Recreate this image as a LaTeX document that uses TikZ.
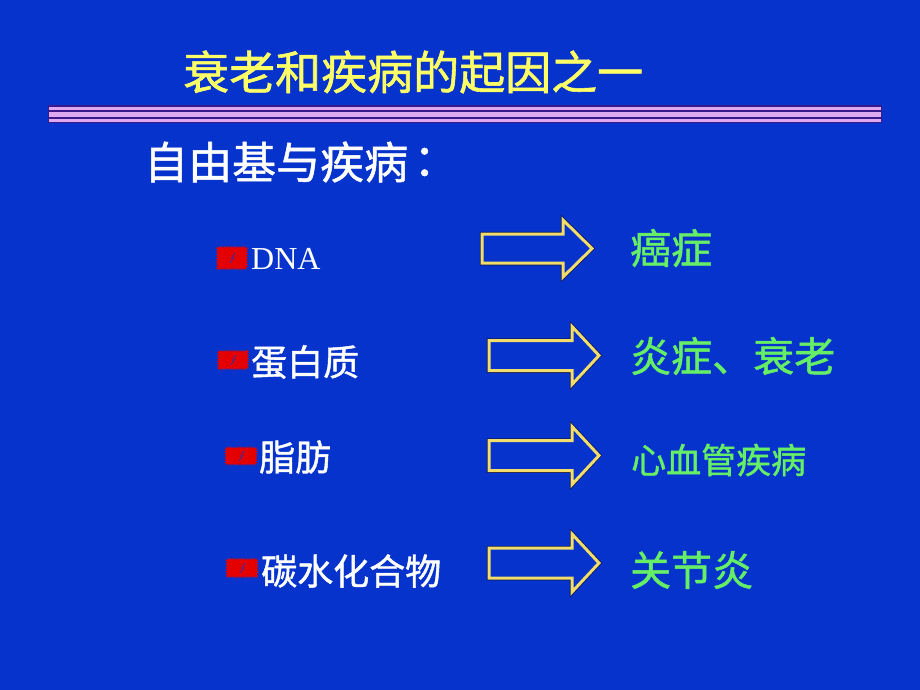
\documentclass[tikz,border=0pt]{standalone}
\usepackage{fontspec}
\setmainfont{Liberation Serif}
\newfontfamily\cjk[FakeBold=1.2]{Noto Sans CJK SC}
\usetikzlibrary{decorations.pathmorphing}
\definecolor{bgblue}{HTML}{0533CC}
\definecolor{ttlyellow}{HTML}{FFFF66}
\definecolor{lgreen}{HTML}{66EE66}
\definecolor{lav}{HTML}{DCA8F0}
\definecolor{darkpur}{HTML}{3A1A8A}
\definecolor{arryel}{HTML}{F2DC6A}
\definecolor{shadow}{HTML}{101850}
\tikzset{
  txt/.style={inner sep=0pt, anchor=west},
  cn/.style={txt, font=\cjk\fontsize{#1}{#1}\selectfont},
  blockarr/.style={draw=arryel, line width=3pt, line join=miter, fill=bgblue},
  bul/.style={fill=red!90!black, decorate, decoration={zigzag, segment length=2.2pt, amplitude=1.1pt}},
}
\newcommand\blockarrow[6]{% left, tip, mid y, shaft half, head half, head length
  \draw[shadow, line width=4.5pt, line join=miter] (#1,#3-#4) -- (#2-#6,#3-#4) -- (#2-#6,#3-#5) -- (#2,#3) -- (#2-#6,#3+#5) -- (#2-#6,#3+#4) -- (#1,#3+#4) -- cycle;
  \draw[blockarr] (#1,#3-#4) -- (#2-#6,#3-#4) -- (#2-#6,#3-#5) -- (#2,#3) -- (#2-#6,#3+#5) -- (#2-#6,#3+#4) -- (#1,#3+#4) -- cycle;}
\newcommand\bulletmark[4]{% cx, cy, w, h
  \fill[bul] (#1-#3/2,#2-#4/2) rectangle (#1+#3/2,#2+#4/2);
  \draw[bgblue!60!red, line width=1.2pt] (#1+3,#2-5) -- (#1,#2) -- (#1+1.5,#2) -- (#1-2,#2+5);}
\begin{document}
\begin{tikzpicture}[x=1pt,y=-1pt]
\fill[bgblue] (0,0) rectangle (920,690);
\useasboundingbox (0,0) rectangle (920,690);
% title
\node[cn=46, text=ttlyellow] (title) at (183,72) {衰老和疾病的起因之一};
% separator lines
\fill[darkpur] (48,105.5) rectangle (882,123.5);
\fill[lav] (49,107.2) rectangle (881,110.2);
\fill[lav] (49,112.2) rectangle (881,117.2);
\fill[lav] (49,119.2) rectangle (881,121.8);
% subtitle
\node[cn=44, text=white] (sub) at (144,162) {自由基与疾病};
\node[cn=44, text=white, xshift=5pt] (colon) at (sub.east) {：};
% left items
\bulletmark{232}{258}{30}{22}
\node[txt, text=white, font=\fontsize{32}{32}\selectfont] (dna) at (251,259) {DNA};
\bulletmark{233}{360}{30}{18}
\node[cn=36, text=white] (prot) at (251,362) {蛋白质};
\bulletmark{241}{456}{31}{17}
\node[cn=36, text=white] (fat) at (259,457) {脂肪};
\bulletmark{242}{568}{31}{18}
\node[cn=36, text=white] (carb) at (261,571) {碳水化合物};
% arrows
\blockarrow{482}{592}{248.5}{14.5}{28.5}{29}
\blockarrow{489}{599}{355.5}{15}{29}{27}
\blockarrow{489}{599}{455.5}{15}{29}{27}
\blockarrow{489}{599}{563}{15}{29}{27}
% right items
\node[cn=41, text=lgreen] (r1) at (630,248) {癌症};
\node[cn=41, text=lgreen] (r2) at (630,356) {炎症、衰老};
\node[cn=35, text=lgreen] (r3) at (631,460) {心血管疾病};
\node[cn=41, text=lgreen] (r4) at (630,570) {关节炎};
\end{tikzpicture}
\end{document}
